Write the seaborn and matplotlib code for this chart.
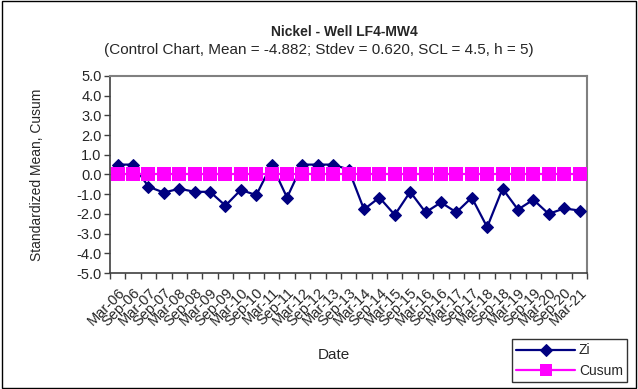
import matplotlib
matplotlib.use('Agg')
import matplotlib.pyplot as plt
import seaborn as sns
import pandas as pd
from matplotlib.patches import Rectangle

# Data
dates = ['Mar-06', 'Sep-06', 'Mar-07', 'Sep-07', 'Mar-08', 'Sep-08', 'Mar-09', 'Sep-09',
         'Mar-10', 'Sep-10', 'Mar-11', 'Sep-11', 'Mar-12', 'Sep-12', 'Mar-13', 'Sep-13',
         'Mar-14', 'Sep-14', 'Mar-15', 'Sep-15', 'Mar-16', 'Sep-16', 'Mar-17', 'Sep-17',
         'Mar-18', 'Sep-18', 'Mar-19', 'Sep-19', 'Mar-20', 'Sep-20', 'Mar-21']
zi = [0.5, 0.5, -0.62, -0.92, -0.72, -0.88, -0.88, -1.58, -0.78, -1.05, 0.5, -1.17,
      0.5, 0.5, 0.5, 0.25, -1.77, -1.17, -2.05, -0.88, -1.92, -1.42, -1.92, -1.17,
      -2.67, -0.72, -1.78, -1.28, -2.0, -1.72, -1.83]
cusum = [0.0] * len(dates)

df = pd.DataFrame({'idx': range(len(dates)), 'date': dates, 'Zi': zi, 'Cusum': cusum})

sns.set_style('white')
plt.rcParams['font.family'] = ['Liberation Sans', 'DejaVu Sans']

fig = plt.figure(figsize=(6.38, 3.89), dpi=100)
ax = fig.add_axes([0.1724, 0.298, 0.748, 0.507])

sns.lineplot(data=df, x='idx', y='Zi', ax=ax, color='#000080', lw=1.6,
             marker='D', markersize=6.5, markeredgecolor='#000080', label='Zi', zorder=3)
sns.lineplot(data=df, x='idx', y='Cusum', ax=ax, color='#FF00FF', lw=1.6,
             marker='s', markersize=10.5, markeredgecolor='#FF00FF', markeredgewidth=0,
             label='Cusum', zorder=4)

ax.set_xlim(-0.5, len(dates) - 0.5)
ax.set_ylim(-5, 5)
ax.set_yticks([v for v in range(-5, 6)])
ax.set_yticklabels([f'{v:.1f}' for v in range(-5, 6)], fontsize=10.5)
ax.set_xticks(range(len(dates)))
ax.set_xticklabels(dates, rotation=45, ha='right', rotation_mode='anchor', fontsize=10.5)
ax.set_xticks([i - 0.5 for i in range(len(dates) + 1)], minor=True)
ax.tick_params(axis='x', which='major', length=0, pad=9)
ax.tick_params(axis='x', which='minor', length=4, width=1, color='#404040', direction='out', bottom=True)
ax.tick_params(axis='y', length=4, width=1, color='#404040', direction='out', left=True, pad=2)

for s in ['top', 'right']:
    ax.spines[s].set_color('#808080')
    ax.spines[s].set_linewidth(1.5)
for s in ['left', 'bottom']:
    ax.spines[s].set_color('#404040')
    ax.spines[s].set_linewidth(1.2)

ax.set_xlabel('')
ax.set_ylabel('')
fig.text(0.058, 0.551, 'Standardized Mean, Cusum', rotation=90, ha='center', va='center', fontsize=10)
fig.text(0.523, 0.087, 'Date', ha='center', va='center', fontsize=11)
fig.text(0.54, 0.918, 'Nickel - Well LF4-MW4', ha='center', va='center', fontsize=10, fontweight='bold')
fig.text(0.499, 0.871, '(Control Chart, Mean = -4.882; Stdev = 0.620, SCL = 4.5, h = 5)',
         ha='center', va='center', fontsize=11)

leg = ax.legend(loc='upper left', bbox_to_anchor=(0.803, 0.128), bbox_transform=fig.transFigure,
                frameon=True, fancybox=False, fontsize=10, handlelength=4.2, borderpad=0.3,
                labelspacing=0.5, handletextpad=0.3, borderaxespad=0)
leg.get_frame().set_edgecolor('black')
leg.get_frame().set_linewidth(1)
for h in leg.legend_handles:
    h.set_markersize(6 if h.get_marker() == 'D' else 8)

fig.patches.append(Rectangle((0.003, 0.003), 0.994, 0.994, transform=fig.transFigure,
                             fill=False, edgecolor='black', lw=1))

fig.savefig('out.png', dpi=100)
